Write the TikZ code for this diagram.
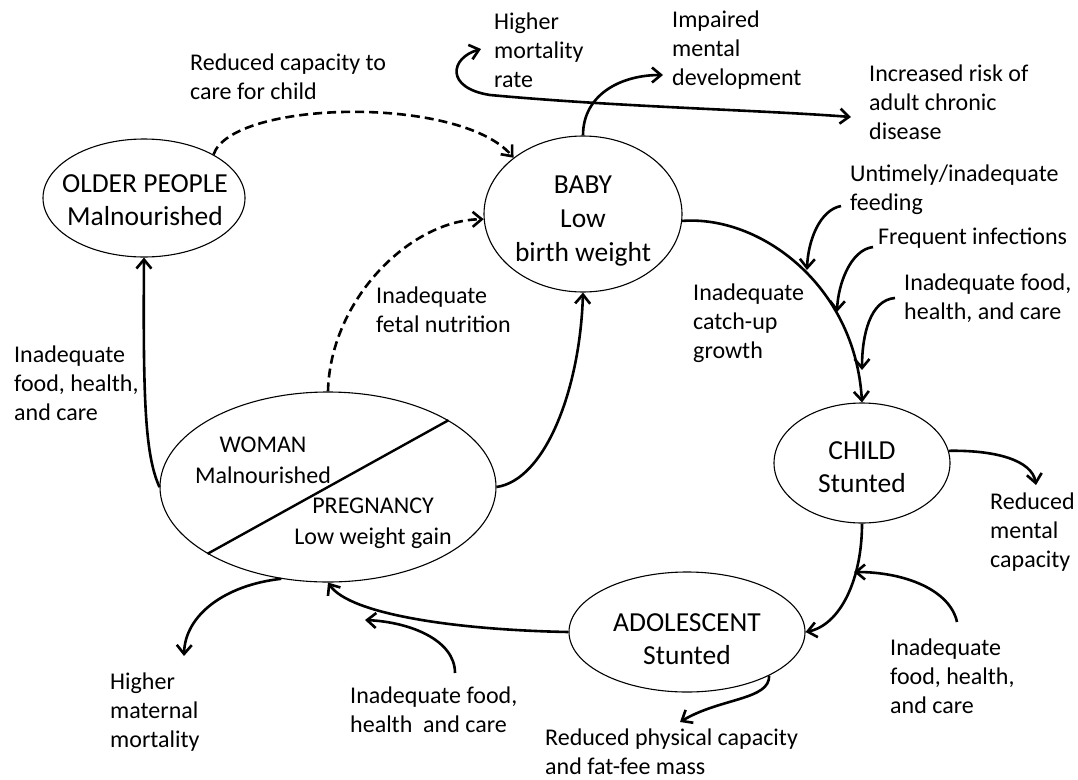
\documentclass[tikz,border=0pt]{standalone}
\usepackage{fontspec}
\setmainfont{Carlito}
\usetikzlibrary{arrows.meta,shapes.geometric}
\begin{document}
\begin{tikzpicture}[x=1pt,y=-1pt,
  lab/.style={anchor=north west, align=left, inner sep=0pt, font=\fontsize{24}{29}\selectfont},
  state/.style={draw, ellipse, line width=1.1pt, inner sep=0pt},
  stxt/.style={align=center, inner sep=0pt, font=\fontsize{27.5}{33}\selectfont},
  wtxt/.style={align=center, inner sep=0pt, font=\fontsize{24}{31}\selectfont},
  conn/.style={line width=2.6pt, -{Straight Barb[length=9pt,width=15pt]}},
  dconn/.style={conn, dash pattern=on 9pt off 5pt},
]
\useasboundingbox (0,0) rectangle (1078,779);

% states
\node[state, minimum width=202pt, minimum height=118pt] (older) at (144,198) {};
\node[stxt] (olderT) at (145,200) {OLDER PEOPLE\\Malnourished};
\node[state, minimum width=198pt, minimum height=156pt] (baby) at (583,214) {};
\node[stxt, font=\fontsize{27.5}{34}\selectfont] (babyT) at (583,221) {BABY\\Low\\birth weight};
\node[state, minimum width=336pt, minimum height=190pt] (woman) at (328,487) {};
\node[wtxt] (womanT) at (263,460) {WOMAN\\Malnourished};
\node[wtxt] (pregT) at (373,523) {PREGNANCY\\Low weight gain};
\draw[line width=2.4pt] (woman.29.4) -- (woman.209.2);
\node[state, minimum width=176pt, minimum height=120pt] (child) at (862,463) {};
\node[stxt] (childT) at (862,467) {CHILD\\Stunted};
\node[state, minimum width=236pt, minimum height=120pt] (adol) at (687,632) {};
\node[stxt] (adolT) at (687,639) {ADOLESCENT\\Stunted};

% labels
\node[lab] (lCap) at (190,54) {Reduced capacity to\\care for child};
\node[lab] (lMort) at (494,13) {Higher\\mortality\\rate};
\node[lab] (lImp) at (672,11) {Impaired\\mental\\development};
\node[lab] (lChron) at (869,65) {Increased risk of\\adult chronic\\disease};
\node[lab] (lFeed) at (850,165) {Untimely/inadequate\\feeding};
\node[lab] (lInf) at (878,228) {Frequent infections};
\node[lab] (lFood1) at (904,274) {Inadequate food,\\health, and care};
\node[lab] (lCatch) at (693,284) {Inadequate\\catch-up\\growth};
\node[lab] (lFetal) at (376,287) {Inadequate\\fetal nutrition};
\node[lab] (lFood2) at (14,346) {Inadequate\\food, health,\\and care};
\node[lab] (lMent) at (990,493) {Reduced\\mental\\capacity};
\node[lab] (lFood3) at (890,639) {Inadequate\\food, health,\\and care};
\node[lab] (lPhys) at (545,729) {Reduced physical capacity\\and fat-fee mass};
\node[lab] (lFood4) at (350,687) {Inadequate food,\\health\ \ and care};
\node[lab] (lMat) at (110,673) {Higher\\maternal\\mortality};

% free ends
\coordinate (mortTip) at (481,49);
\coordinate (chronTip) at (851,117);
\coordinate (impTip) at (663,75);
\coordinate (feedS) at (841,206);
\coordinate (feedTip) at (807,270);
\coordinate (infS) at (873,247);
\coordinate (infTip) at (837,312);
\coordinate (foodS1) at (895,298);
\coordinate (foodTip1) at (862,370);
\coordinate (mentTip) at (1036,485);
\coordinate (foodS3) at (957,622);
\coordinate (foodTip3) at (854,572);
\coordinate (physTip) at (680,722);
\coordinate (foodS4) at (455,673);
\coordinate (foodTip4) at (365,620);
\coordinate (matTip) at (184,656);

% connectors
\draw[dconn] (older.32) .. controls (232,100) and (460,95) .. (baby.141);
\draw[dconn] (woman.north) .. controls (330,300) and (410,220) .. (baby.183);
\draw[conn] (woman.west) .. controls (145,455) and (143,400) .. (older.south);
\draw[conn] (woman.east) .. controls (545,480) and (580,390) .. (baby.south);
\draw[line width=2.6pt, {Straight Barb[length=9pt,width=15pt]}-{Straight Barb[length=9pt,width=15pt]}]
  (mortTip) .. controls (450,58) and (445,88) .. (490,95) .. controls (620,107) and (760,110) .. (chronTip);
\draw[conn] (baby.north) .. controls (583,95) and (620,75) .. (impTip);
\draw[conn] (baby.-4) .. controls (760,215) and (855,285) .. (child.north);
\draw[conn] (feedS) .. controls (820,210) and (808,240) .. (feedTip);
\draw[conn] (infS) .. controls (850,250) and (838,285) .. (infTip);
\draw[conn] (foodS1) .. controls (870,300) and (862,335) .. (foodTip1);
\draw[conn] (child.8) .. controls (995,450) and (1032,460) .. (mentTip);
\draw[conn] (child.south) .. controls (862,580) and (840,625) .. (adol.east);
\draw[conn] (foodS3) .. controls (950,590) and (905,572) .. (foodTip3);
\draw[conn] (adol.-28) .. controls (770,700) and (720,698) .. (physTip);
\draw[conn] (adol.west) .. controls (460,630) and (350,615) .. (woman.south);
\draw[conn] (foodS4) .. controls (455,640) and (410,622) .. (foodTip4);
\draw[conn] (woman.243) .. controls (225,585) and (185,615) .. (matTip);
\end{tikzpicture}
\end{document}
